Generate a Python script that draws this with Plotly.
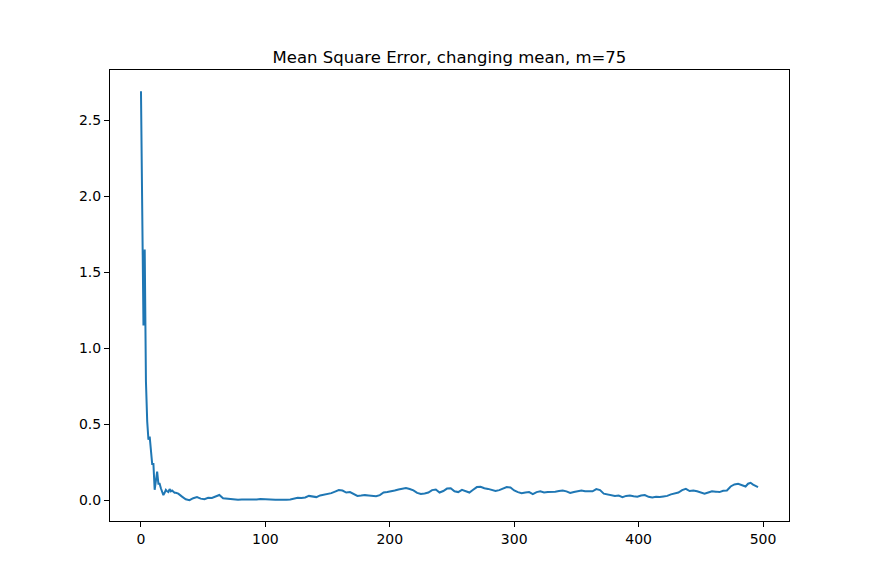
import plotly.graph_objects as go

# iteration index and mean square error
iters = [0, 1, 2, 3, 4, 5, 6, 7, 8, 9, 10, 11, 12, 13, 14, 15, 16, 17, 18, 19, 20,
         21, 22, 23, 24, 25, 26, 27, 28, 29, 30,
         33, 36, 39, 42, 45, 48, 51, 54, 57, 60, 63, 66, 69, 72, 75, 78, 81, 84, 87, 90,
         93, 96, 99, 102, 105, 108, 111, 114, 117, 120, 123, 126, 129, 132, 135, 138, 141, 144, 147, 150,
         153, 156, 159, 162, 165, 168, 171, 174, 177, 180, 183, 186, 189, 192, 195, 198, 201, 204, 207, 210,
         213, 216, 219, 222, 225, 228, 231, 234, 237, 240, 243, 246, 249, 252, 255, 258, 261, 264, 267, 270,
         273, 276, 279, 282, 285, 288, 291, 294, 297, 300, 303, 306, 309, 312, 315, 318, 321, 324, 327, 330,
         333, 336, 339, 342, 345, 348, 351, 354, 357, 360, 363, 366, 369, 372, 375, 378, 381, 384, 387, 390,
         393, 396, 399, 402, 405, 408, 411, 414, 417, 420, 423, 426, 429, 432, 435, 438, 441, 444, 447, 450,
         453, 456, 459, 462, 465, 468, 471, 474, 477, 480, 483, 486, 488, 490, 492, 494, 496]

mse = [2.69, 1.95, 1.15, 1.65, 0.78, 0.52, 0.40, 0.42, 0.30, 0.24, 0.24, 0.07, 0.13, 0.19, 0.11, 0.11, 0.08, 0.05, 0.035, 0.05, 0.07,
       0.06, 0.055, 0.075, 0.06, 0.065, 0.055, 0.05, 0.05, 0.048, 0.045,
       0.025, 0.008, 0.002, 0.015, 0.022, 0.012, 0.008, 0.018, 0.016, 0.025, 0.036, 0.015, 0.012, 0.010, 0.003, 0.004, 0.006, 0.005, 0.008, 0.004,
       0.006, 0.009, 0.007, 0.005, 0.006, 0.004, 0.005, 0.003, 0.004, 0.006, 0.012, 0.018, 0.016, 0.020, 0.030, 0.026, 0.022, 0.033, 0.038, 0.045,
       0.048, 0.058, 0.068, 0.065, 0.052, 0.055, 0.045, 0.030, 0.032, 0.035, 0.033, 0.030, 0.028, 0.035, 0.052, 0.055, 0.058, 0.065, 0.072, 0.076,
       0.082, 0.075, 0.066, 0.050, 0.042, 0.046, 0.052, 0.068, 0.072, 0.052, 0.062, 0.078, 0.080, 0.060, 0.055, 0.070, 0.062, 0.052, 0.070, 0.088,
       0.090, 0.080, 0.076, 0.070, 0.062, 0.068, 0.078, 0.088, 0.085, 0.066, 0.055, 0.048, 0.052, 0.055, 0.042, 0.055, 0.060, 0.052, 0.056, 0.055,
       0.058, 0.062, 0.066, 0.060, 0.050, 0.056, 0.062, 0.066, 0.060, 0.062, 0.060, 0.075, 0.068, 0.045, 0.040, 0.035, 0.030, 0.032, 0.022, 0.030,
       0.033, 0.028, 0.024, 0.032, 0.036, 0.024, 0.020, 0.024, 0.022, 0.026, 0.030, 0.040, 0.046, 0.052, 0.068, 0.076, 0.062, 0.066, 0.060, 0.052,
       0.044, 0.052, 0.060, 0.058, 0.055, 0.064, 0.066, 0.092, 0.105, 0.110, 0.102, 0.092, 0.110, 0.116, 0.104, 0.095, 0.088]

x_ticks = [0, 100, 200, 300, 400, 500]
y_ticks = [0.0, 0.5, 1.0, 1.5, 2.0, 2.5]

fig = go.Figure()
fig.add_trace(go.Scatter(x=iters, y=mse, mode="lines",
                         line=dict(color="#1f77b4", width=2)))

axis_style = dict(showline=True, mirror=True, linecolor="black", linewidth=1,
                  ticks="outside", ticklen=5, tickcolor="black", showgrid=False,
                  zeroline=False, tickfont=dict(size=14, color="black"))

fig.update_xaxes(range=[-24.9, 520.9], tickvals=x_ticks, **axis_style)
fig.update_yaxes(range=[-0.135, 2.829], tickvals=y_ticks, tickformat=".1f", **axis_style)

# page puts the figure 8px in from the corner, so margins are shifted to match
fig.update_layout(
    title=dict(text="Mean Square Error, changing mean, m=75", x=0.5, xref="paper",
               y=1 - 49 / 585, yref="container", yanchor="middle",
               font=dict(size=16.5, color="black")),
    font=dict(family="DejaVu Sans"),
    width=877, height=585,
    margin=dict(l=102, r=96, t=62, b=72),
    plot_bgcolor="white", paper_bgcolor="white",
    showlegend=False,
)

fig.write_html("out.html")
